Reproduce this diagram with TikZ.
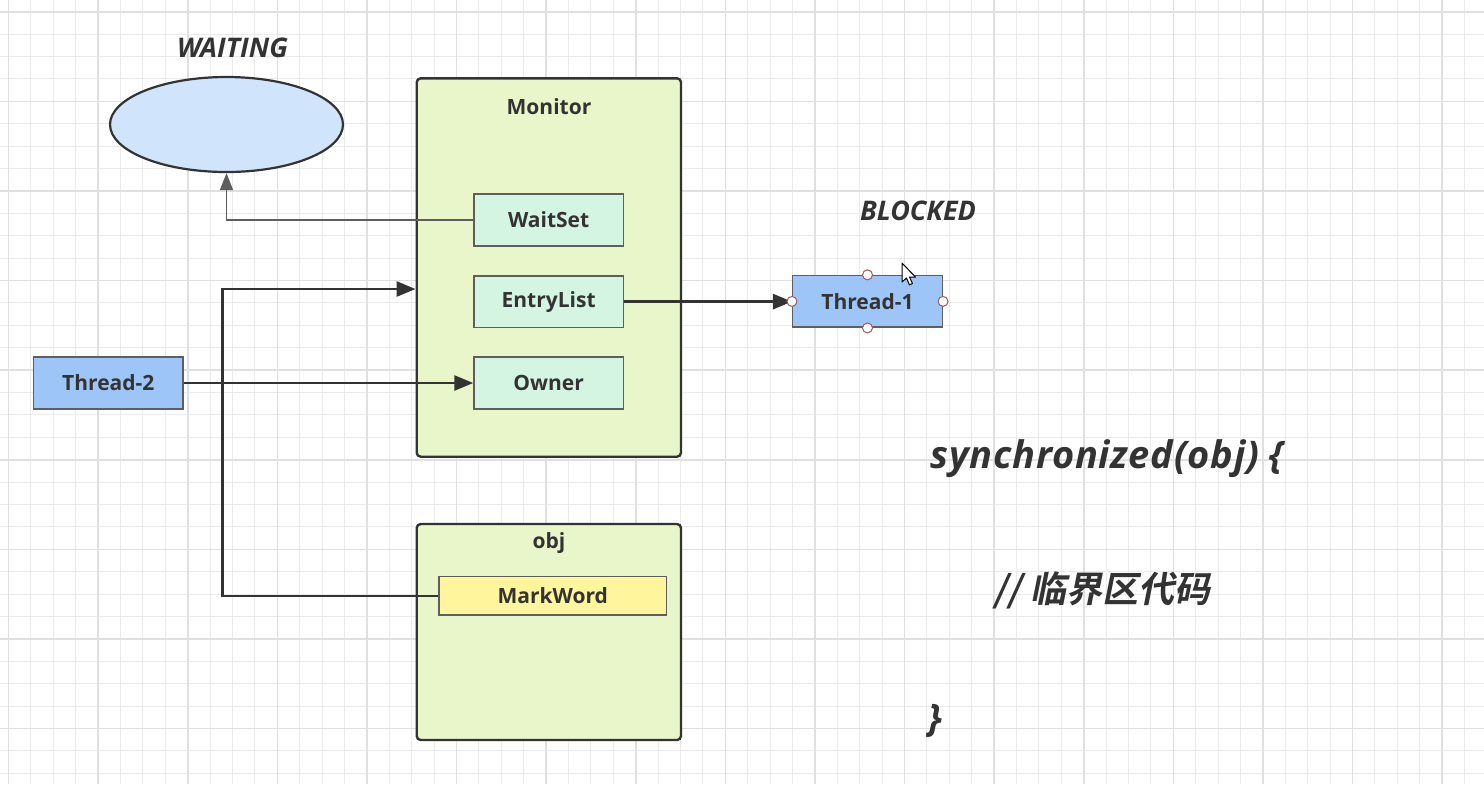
\documentclass[tikz,border=0pt]{standalone}
\usepackage{fontspec}
\setmainfont{Open Sans}
\newfontfamily\cjkfont[FakeSlant=0.2]{Noto Sans CJK SC Bold}
\usetikzlibrary{arrows.meta,shapes.geometric}

\definecolor{ink}{HTML}{333333}
\definecolor{edge}{HTML}{5E5E5E}
\definecolor{gridminor}{HTML}{EBEBEB}
\definecolor{gridmajor}{HTML}{E0E0E0}
\definecolor{monfill}{HTML}{E8F6CA}
\definecolor{slotfill}{HTML}{D5F5E3}
\definecolor{threadfill}{HTML}{9EC5F8}
\definecolor{waitfill}{HTML}{D0E4FC}
\definecolor{markfill}{HTML}{FFF59D}
\definecolor{handle}{HTML}{A05A5A}

\tikzset{
  labelfont/.style={font=\bfseries\fontsize{10.5pt}{12pt}\selectfont},
  statefont/.style={font=\bfseries\itshape\fontsize{13.5pt}{15pt}\selectfont},
  codefont/.style={font=\bfseries\itshape\fontsize{19pt}{22pt}\selectfont\addfontfeature{LetterSpace=2}},
  container/.style={draw=ink, line width=1.2pt, fill=monfill, rounded corners=2pt},
  slot/.style={draw=edge, line width=0.75pt, fill=slotfill, labelfont,
    minimum width=74.65pt, minimum height=25.8pt, inner sep=0pt},
  threadbox/.style={draw=edge, line width=0.75pt, fill=threadfill, labelfont,
    minimum width=74.8pt, minimum height=25.8pt, inner sep=0pt},
  markbox/.style={draw=edge, line width=0.75pt, fill=markfill, labelfont,
    minimum width=113.85pt, minimum height=19.15pt, inner sep=0pt},
  plain/.style={inner sep=0pt},
  flow/.style={draw=ink, line width=1.35pt, -{Triangle[length=9.5pt,width=7.5pt]}},
  thinflow/.style={draw=edge, line width=0.8pt, -{Triangle[length=8.5pt,width=6.5pt]}},
  selhandle/.style={circle, draw=handle, line width=0.5pt, fill=white,
    minimum size=5pt, inner sep=0pt},
}

\begin{document}
\begin{tikzpicture}[x=0.5pt, y=-0.5pt, text=ink]
  % canvas and grid
  \fill[white] (0,0) rectangle (1484,784);
  \useasboundingbox (0,0) rectangle (1484,784);
  \begin{scope}
    \clip (0,0) rectangle (1484,784);
    \foreach \k in {0,...,65}
      \draw[gridminor, line width=0.5pt] ({8.5+22.4*\k},0) -- ({8.5+22.4*\k},784);
    \foreach \k in {0,...,34}
      \draw[gridminor, line width=0.5pt] (0,{11.7+22.4*\k}) -- (1484,{11.7+22.4*\k});
    \foreach \k in {0,4,...,64}
      \draw[gridmajor, line width=0.8pt] ({8.5+22.4*\k},0) -- ({8.5+22.4*\k},784);
    \foreach \k in {0,4,...,32}
      \draw[gridmajor, line width=0.8pt] (0,{11.7+22.4*\k}) -- (1484,{11.7+22.4*\k});
  \end{scope}

  % waiting state
  \node[statefont, plain] (waitlbl) at (232.5,48) {WAITING};
  \node[ellipse, draw=ink, line width=1.1pt, fill=waitfill,
        minimum width=116.5pt, minimum height=47.5pt, inner sep=0pt] (waitpool) at (226.5,124.5) {};

  % monitor
  \node[container, minimum width=132.15pt, minimum height=189.2pt, inner sep=0pt] (monitor) at (548.85,267.5) {};
  \node[labelfont, plain] (monlbl) at (549,106.7) {Monitor};
  \node[slot] (waitset) at (548.65,220) {WaitSet};
  \node[slot] (entrylist) at (548.65,301.6) {EntryList};
  \node[slot] (owner) at (548.65,383) {Owner};

  % object header
  \node[container, minimum width=132.15pt, minimum height=108pt, inner sep=0pt] (obj) at (548.85,632) {};
  \node[labelfont, plain] (objlbl) at (549,542.7) {obj};
  \node[markbox] (markword) at (552.85,595.85) {MarkWord};

  % threads
  \node[threadbox] (thread2) at (108.3,383) {Thread-2};
  \node[threadbox] (thread1) at (867.5,301.4) {Thread-1};
  \node[statefont, plain] (blockedlbl) at (918,211) {BLOCKED};

  % connectors
  \draw[thinflow] (waitset.west) -| (waitpool.south);
  \draw[flow] (entrylist.east) -- (entrylist.east -| thread1.west);
  \draw[flow] (thread2.east) -- (thread2.east -| owner.west);
  \coordinate (bend) at (222.7,289);
  \draw[flow] (markword.west) -| (bend) -- (bend -| monitor.west);

  % selection handles around Thread-1
  \foreach \a in {north,south,east,west}
    \node[selhandle] (h\a) at (thread1.\a) {};

  % mouse pointer
  \filldraw[fill=white, draw=black, line width=0.5pt, line join=round]
    (902,263) -- ++(0,19) -- ++(4.5,-4) -- ++(3,7) -- ++(3,-1.5) -- ++(-3,-6.5) -- ++(6,0) -- cycle;

  % code
  \node[codefont, plain, anchor=base west] (code1) at (930,468) {synchronized(obj) \{};
  \node[plain, font=\cjkfont\fontsize{18pt}{21pt}\selectfont] (code2) at (1102,590) {// 临界区代码};
  \node[codefont, plain, anchor=base west] (code3) at (928,731) {\}};
\end{tikzpicture}
\end{document}
